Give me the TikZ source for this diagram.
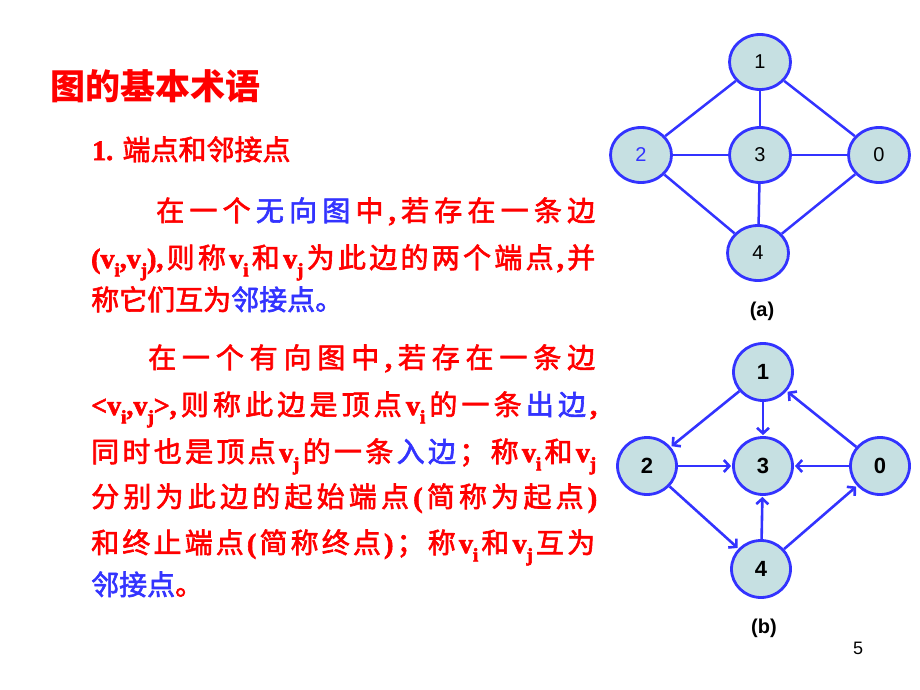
\documentclass[tikz,border=0pt]{standalone}
\usepackage{fontspec}
\setmainfont{Liberation Serif}
\setsansfont{Liberation Sans}
\newfontfamily\cjk{Noto Sans CJK SC}[BoldFont=*]
\newfontfamily\cjkt{Noto Sans CJK SC}
\newfontfamily\lat{Liberation Serif}
\usetikzlibrary{arrows.meta,shapes.geometric}
\definecolor{tred}{RGB}{255,0,0}
\definecolor{tblue}{RGB}{51,51,255}
\definecolor{eblue}{RGB}{51,51,255}
\definecolor{nfill}{RGB}{198,224,226}
\newXeTeXintercharclass\cjkcls
\makeatletter
\count@="4E00\relax
\loop \XeTeXcharclass\count@=\cjkcls\relax \advance\count@ by 1\relax \ifnum\count@<"A000\relax \repeat
\count@="3000\relax
\loop \XeTeXcharclass\count@=\cjkcls\relax \advance\count@ by 1\relax \ifnum\count@<"3040\relax \repeat
\count@="FF00\relax
\loop \XeTeXcharclass\count@=\cjkcls\relax \advance\count@ by 1\relax \ifnum\count@<"FFF0\relax \repeat
\makeatother
\newcommand\jg{\hskip 0pt plus 1fil\relax}
\XeTeXinterchartoks \cjkcls \cjkcls = {\jg}
\XeTeXinterchartoks 0 \cjkcls = {\jg\cjk}
\XeTeXinterchartoks \cjkcls 0 = {\jg\lat\bfseries}
\XeTeXinterchartoks 4095 \cjkcls = {\cjk}
\XeTeXinterchartoks 4095 0 = {\lat\bfseries}
\newcommand\T[1]{{\special{pdf:literal direct 2 Tr 0.6 w}\XeTeXinterchartokenstate=1\relax #1\special{pdf:literal direct 0 Tr}}}
\newcommand\sbs[1]{\raisebox{-0.3em}{\fontsize{19}{19}\selectfont #1}}
\newcommand\B[1]{\textcolor{tblue}{#1}}
\newcommand\jl[2]{\hbox to #1{#2}}
\tikzset{
  txt/.style={anchor=base west, inner sep=0pt, text=tred,
    font=\fontsize{28}{34}\selectfont\bfseries},
  gnode/.style={ellipse, draw=eblue, line width=2.8pt, fill=nfill, inner sep=0pt,
    minimum width=61pt, minimum height=55pt},
  anode/.style={gnode, font=\sffamily\fontsize{20}{20}\selectfont},
  bnode/.style={gnode, minimum width=59pt, minimum height=57pt, font=\sffamily\bfseries\fontsize{22}{22}\selectfont},
  aedge/.style={draw=eblue, line width=2.5pt},
  bedge/.style={draw=eblue, line width=2.6pt, -{Straight Barb[length=5.5pt,width=12pt]}, shorten >=1pt},
  caption/.style={font=\sffamily\bfseries\fontsize{20}{20}\selectfont}
}
\begin{document}
\begin{tikzpicture}[x=1pt,y=-1pt]
\path[use as bounding box] (0,0) rectangle (920,690);
% text
\node[txt, font=\fontsize{35}{40}\selectfont\bfseries\cjkt] (title) at (50,100) {图的基本术语};
\node[txt] (h1) at (92,160) {\T{1. 端点和邻接点}};
\node[txt] (p1a) at (156,221) {\T{\jl{439pt}{在一个\jg\B{无向图}\jg 中,若存在一条边}}};
\node[txt] (p1b) at (91,268) {\T{\jl{504pt}{(v\sbs{i},v\sbs{j}),则称v\sbs{i}\jg 和\jg v\sbs{j}\jg 为此边的两个端点,并}}};
\node[txt] (p1c) at (91,310) {\T{称它们互为\jg\B{邻接点。}}};
\node[txt] (p2a) at (148,368) {\T{\jl{447pt}{在一个有向图中,若存在一条边}}};
\node[txt] (p2b) at (91,415) {\T{\jl{506pt}{<v\sbs{i},v\sbs{j}>,则称此边是顶点v\sbs{i}\jg 的一条\jg\B{出边}\jg ,}}};
\node[txt] (p2c) at (91,462) {\T{\jl{505pt}{同时也是顶点v\sbs{j}\jg 的一条\jg\B{入边}\jg ；称v\sbs{i}\jg 和\jg v\sbs{j}}}};
\node[txt] (p2d) at (91,507) {\T{\jl{506pt}{分别为此边的起始端点(简称为起点)}}};
\node[txt] (p2e) at (91,553) {\T{\jl{504pt}{和终止端点(简称终点)；称v\sbs{i}\jg 和\jg v\sbs{j}\jg 互为}}};
\node[txt] (p2f) at (91,595) {\T{\B{邻接点}。}};
% graph (a)
\node[anode] (a1) at (760,62) {1};
\node[anode, text=tblue] (a2) at (641,155) {2};
\node[anode] (a3) at (760,155) {3};
\node[anode] (a0) at (879,155) {0};
\node[anode] (a4) at (758,253) {4};
\draw[aedge] (a1) -- (a2);
\draw[aedge] (a1) -- (a3);
\draw[aedge] (a1) -- (a0);
\draw[aedge] (a2) -- (a3);
\draw[aedge] (a3) -- (a0);
\draw[aedge] (a2) -- (a4);
\draw[aedge] (a3) -- (a4);
\draw[aedge] (a4) -- (a0);
\node[caption] (capa) at (762,311) {(a)};
% graph (b)
\node[bnode] (b1) at (763,372) {1};
\node[bnode] (b2) at (647,466) {2};
\node[bnode] (b3) at (763,466) {3};
\node[bnode] (b0) at (880,466) {0};
\node[bnode] (b4) at (761,569) {4};
\draw[bedge] (b1) -- (b2);
\draw[bedge] (b1) -- (b3);
\draw[bedge] (b0) -- (b1);
\draw[bedge] (b2) -- (b3);
\draw[bedge] (b0) -- (b3);
\draw[bedge] (b2) -- (b4);
\draw[bedge] (b4) -- (b3);
\draw[bedge] (b4) -- (b0);
\node[caption] (capb) at (764,628) {(b)};
\node[font=\sffamily\fontsize{18}{18}\selectfont] (pg) at (858,648) {5};
\end{tikzpicture}
\end{document}
